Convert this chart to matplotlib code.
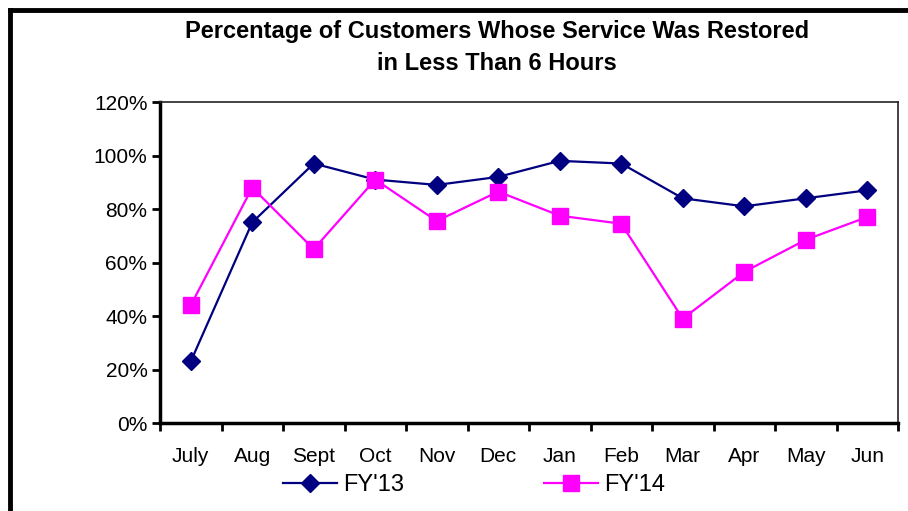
import matplotlib.pyplot as plt
from matplotlib.lines import Line2D

plt.rcParams['font.family'] = ['Liberation Sans', 'DejaVu Sans']

months = ['July', 'Aug', 'Sept', 'Oct', 'Nov', 'Dec', 'Jan', 'Feb', 'Mar', 'Apr', 'May', 'Jun']
fy13 = [23, 75, 97, 91, 89, 92, 98, 97, 84, 81, 84, 87]
fy14 = [44, 88, 65, 91, 75.5, 86.5, 77.5, 74.5, 39, 56.5, 68.5, 77]
yticks = [0, 20, 40, 60, 80, 100, 120]

fig = plt.figure(figsize=(9.08, 5.11), dpi=100)
ax = fig.add_axes([160 / 908, 1 - 423 / 511, 738 / 908, 321 / 511])

x = list(range(len(months)))
ax.plot(x, fy13, color='#000080', lw=1.6, marker='D', ms=8.7, label="FY'13")
ax.plot(x, fy14, color='#FF00FF', lw=1.6, marker='s', ms=11.5, label="FY'14")

ax.set_xlim(-0.5, len(months) - 0.5)
ax.set_ylim(0, 120)
ax.set_yticks(yticks)
ax.set_yticklabels([f'{v}%' for v in yticks], fontsize=15)
ax.set_xticks(x)
ax.set_xticklabels(months, fontsize=15)
ax.tick_params(axis='x', length=0, pad=17)
ax.set_xticks([i - 0.5 for i in range(len(months) + 1)], minor=True)
ax.tick_params(axis='x', which='minor', length=6, width=2, direction='out')
ax.tick_params(axis='y', length=6, width=2, direction='out', pad=3)

for side in ['left', 'bottom']:
    ax.spines[side].set_linewidth(2.5)
for side in ['top', 'right']:
    ax.spines[side].set_linewidth(1.2)
    ax.spines[side].set_color('#222222')

fig.suptitle('Percentage of Customers Whose Service Was Restored\nin Less Than 6 Hours',
             x=497 / 908, y=1 - 20 / 511, fontsize=17, fontweight='bold', linespacing=1.5,
             va='top')

fig.legend(loc='center', bbox_to_anchor=(474 / 908, 1 - 485 / 511), ncol=2, frameon=False,
           fontsize=17, handlelength=2.3, columnspacing=5.9, handletextpad=0.25)

# outer border of the chart (right and bottom edges are cut off)
fig.add_artist(Line2D([10 / 908, 10 / 908], [0, 1 - 10 / 511], color='black', lw=3.5,
                      transform=fig.transFigure))
fig.add_artist(Line2D([10 / 908, 1], [1 - 10 / 511, 1 - 10 / 511], color='black', lw=3.5,
                      transform=fig.transFigure))

fig.savefig('out.png', dpi=100)
